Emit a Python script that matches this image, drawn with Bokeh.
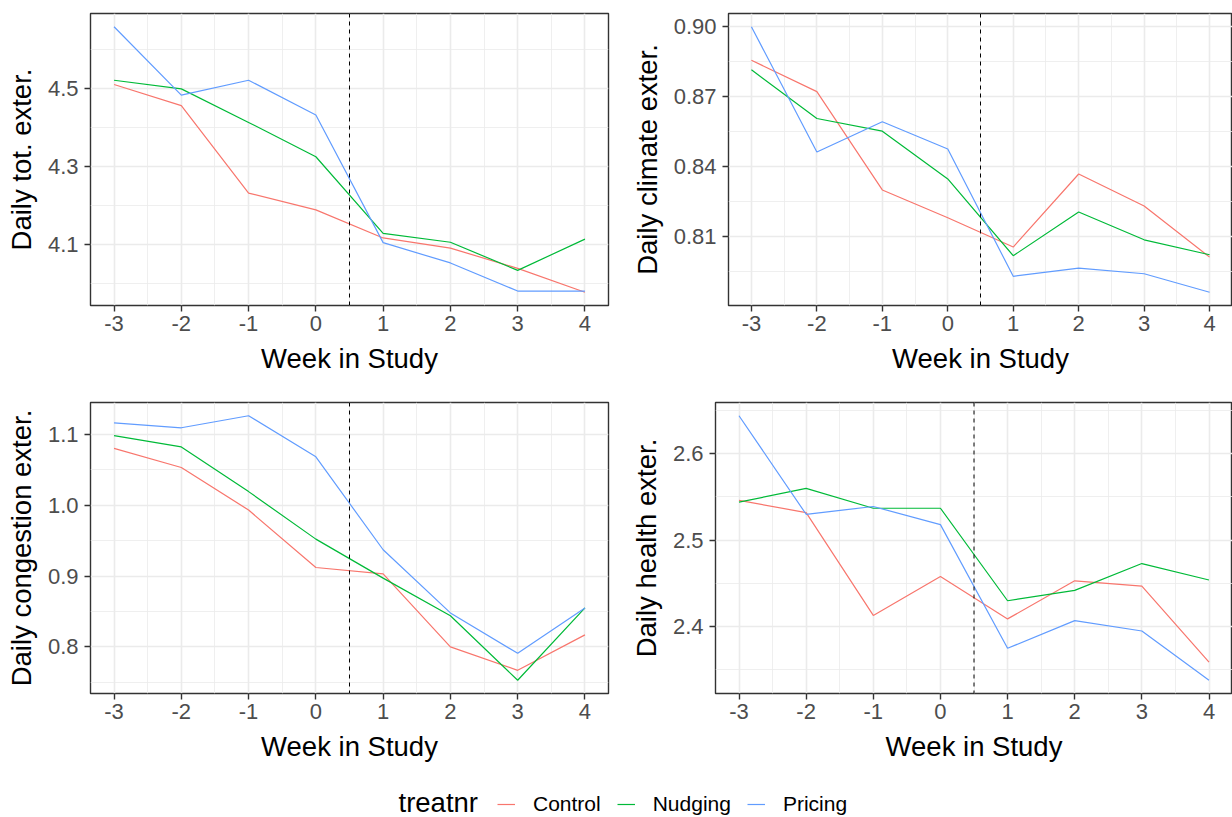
from bokeh.plotting import figure
from bokeh.models import Range1d, FixedTicker, Span, Legend, LegendItem, Label
from bokeh.layouts import column, row
from bokeh.embed import file_html
from bokeh.resources import INLINE

# ---------------- data ----------------
weeks = [-3, -2, -1, 0, 1, 2, 3, 4]
week_labels = ["-3", "-2", "-1", "0", "1", "2", "3", "4"]
groups = ["Control", "Nudging", "Pricing"]
colors = ["#F8766D", "#00BA38", "#619CFF"]
intervention = 0.5

tot_control = [4.509, 4.455, 4.231, 4.188, 4.116, 4.090, 4.038, 3.977]
tot_nudging = [4.520, 4.498, 4.412, 4.324, 4.128, 4.105, 4.033, 4.113]
tot_pricing = [4.657, 4.482, 4.520, 4.431, 4.104, 4.052, 3.980, 3.980]
tot_ticks = [4.1, 4.3, 4.5]
tot_tick_labels = ["4.1", "4.3", "4.5"]

climate_control = [0.8854, 0.8720, 0.8300, 0.8181, 0.8056, 0.8368, 0.8231, 0.8013]
climate_nudging = [0.8813, 0.8605, 0.8551, 0.8347, 0.8019, 0.8206, 0.8087, 0.8023]
climate_pricing = [0.8997, 0.8462, 0.8591, 0.8475, 0.7931, 0.7966, 0.7942, 0.7863]
climate_ticks = [0.81, 0.84, 0.87, 0.90]
climate_tick_labels = ["0.81", "0.84", "0.87", "0.90"]

congestion_control = [1.080, 1.053, 0.993, 0.912, 0.903, 0.800, 0.767, 0.817]
congestion_nudging = [1.098, 1.082, 1.019, 0.952, 0.897, 0.844, 0.753, 0.855]
congestion_pricing = [1.116, 1.109, 1.126, 1.068, 0.937, 0.848, 0.791, 0.855]
congestion_ticks = [0.8, 0.9, 1.0, 1.1]
congestion_tick_labels = ["0.8", "0.9", "1.0", "1.1"]

health_control = [2.546, 2.532, 2.413, 2.458, 2.409, 2.453, 2.447, 2.359]
health_nudging = [2.544, 2.560, 2.537, 2.537, 2.430, 2.442, 2.473, 2.454]
health_pricing = [2.644, 2.530, 2.539, 2.518, 2.375, 2.407, 2.395, 2.338]
health_ticks = [2.4, 2.5, 2.6]
health_tick_labels = ["2.4", "2.5", "2.6"]

FONT = "Liberation Sans"


def minor_of(ticks):
    step = ticks[1] - ticks[0]
    out = [ticks[0] - step / 2]
    out += [(a + b) / 2 for a, b in zip(ticks[:-1], ticks[1:])]
    out += [ticks[-1] + step / 2]
    return out


def make_panel(ylabel, series, yticks, ylabels, bl, fw, br, bt, fh, bb):
    allv = [v for s in series for v in s]
    lo, hi = min(allv), max(allv)
    pad = 0.05 * (hi - lo)
    xpad = 0.05 * (weeks[-1] - weeks[0])
    p = figure(frame_width=fw, frame_height=fh,
               min_border_left=bl, min_border_right=br,
               min_border_top=bt, min_border_bottom=bb,
               x_range=Range1d(weeks[0] - xpad, weeks[-1] + xpad),
               y_range=Range1d(lo - pad, hi + pad),
               output_backend="svg", toolbar_location=None,
               background_fill_color="white", border_fill_color="white")
    p.outline_line_color = "#333333"
    p.outline_line_width = 1.4

    p.xaxis.ticker = FixedTicker(ticks=weeks, minor_ticks=minor_of(weeks))
    p.xaxis.major_label_overrides = {w: l for w, l in zip(weeks, week_labels)}
    p.yaxis.ticker = FixedTicker(ticks=yticks, minor_ticks=minor_of(yticks))
    p.yaxis.major_label_overrides = {t: l for t, l in zip(yticks, ylabels)}

    for ax in (p.xaxis, p.yaxis):
        ax.axis_line_color = None
        ax.major_tick_line_color = "#333333"
        ax.major_tick_line_width = 1.4
        ax.major_tick_out = 6
        ax.major_tick_in = 0
        ax.minor_tick_line_color = None
        ax.major_label_text_font = FONT
        ax.major_label_text_font_size = "22px"
        ax.major_label_text_color = "#4D4D4D"
        ax.axis_label_text_font = FONT
        ax.axis_label_text_font_size = "27.5px"
        ax.axis_label_text_font_style = "normal"
        ax.axis_label_text_color = "black"
    p.xaxis.major_label_standoff = 4
    p.yaxis.major_label_standoff = 6
    p.xaxis.axis_label_standoff = 9
    p.yaxis.axis_label_standoff = 8
    p.xaxis.axis_label = "Week in Study"
    p.yaxis.axis_label = ylabel

    for g in (p.xgrid, p.ygrid):
        g.grid_line_color = "#EBEBEB"
        g.grid_line_width = 1.6
        g.minor_grid_line_color = "#EBEBEB"
        g.minor_grid_line_width = 0.8

    for vals, c in zip(series, colors):
        p.line(weeks, vals, line_color=c, line_width=1.2)

    p.add_layout(Span(location=intervention, dimension="height",
                      line_color="black", line_dash="4 4", line_width=1))
    return p


p1 = make_panel("Daily tot. exter.", [tot_control, tot_nudging, tot_pricing],
                tot_ticks, tot_tick_labels, 90, 518, 8, 13, 292, 85)
p2 = make_panel("Daily climate exter.", [climate_control, climate_nudging, climate_pricing],
                climate_ticks, climate_tick_labels, 112, 504, 0, 13, 292, 85)
p3 = make_panel("Daily congestion exter.", [congestion_control, congestion_nudging, congestion_pricing],
                congestion_ticks, congestion_tick_labels, 90, 518, 8, 12, 291, 77)
p4 = make_panel("Daily health exter.", [health_control, health_nudging, health_pricing],
                health_ticks, health_tick_labels, 99, 517, 0, 12, 291, 77)

# ---------------- legend strip ----------------
# The legend strip shows no data: its y range lies away from the series, so the
# renderers exist only to give the legend its line keys.
leg = figure(width=1232, height=47, toolbar_location=None, output_backend="svg",
             min_border=0, x_axis_location=None, y_axis_location=None,
             outline_line_color=None, x_range=Range1d(0, 1), y_range=Range1d(100, 101))
leg.grid.visible = False
items = []
for g, c, vals in zip(groups, colors, [tot_control, tot_nudging, tot_pricing]):
    r = leg.line(weeks, vals, line_color=c, line_width=1.2)
    items.append(LegendItem(label=g, renderers=[r]))
legend = Legend(items=items, orientation="horizontal", location=(497, 1),
                padding=0, margin=0, spacing=16, label_standoff=18,
                glyph_width=18, glyph_height=20, label_height=20,
                label_text_font=FONT, label_text_font_size="21px",
                label_text_color="black",
                background_fill_alpha=0, border_line_color=None)
leg.add_layout(legend)
leg.add_layout(Label(x=398, y=15, x_units="screen", y_units="screen",
                     text="treatnr", text_font=FONT, text_font_size="27.5px",
                     text_baseline="middle", text_color="black"))

layout = column(row(p1, p2), row(p3, p4), leg)

open("out.html", "w").write(file_html(layout, INLINE))
